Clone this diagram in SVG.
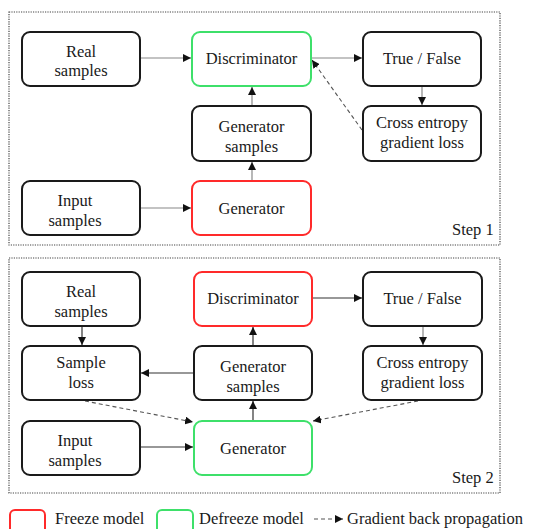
<svg xmlns="http://www.w3.org/2000/svg" width="541" height="529" viewBox="0 0 541 529">
<defs>
<marker id="ah" viewBox="0 0 10 10" refX="10" refY="5" markerWidth="8" markerHeight="8" markerUnits="userSpaceOnUse" orient="auto"><path d="M0,0 L10,5 L0,10 z" fill="#111"/></marker>
<style>
.frame{fill:none;stroke:#444;stroke-width:1.2;stroke-dasharray:1.2 1.2}
.box{fill:#fff;stroke:#1a1a1a;stroke-width:2}
.red{fill:#fff;stroke:#ff2a2a;stroke-width:2}
.grn{fill:#fff;stroke:#3ee06a;stroke-width:2}
.t,.lt{font-family:"Liberation Serif",serif;font-size:16.5px;fill:#1a1a1a}
.t{text-anchor:middle}
.ln{stroke:#888;stroke-width:1.2;fill:none;marker-end:url(#ah)}
.ln2{stroke:#333;stroke-width:1.2;fill:none;marker-end:url(#ah)}
.dl{stroke:#555;stroke-width:1.1;fill:none;stroke-dasharray:4 3;marker-end:url(#ah)}
</style>
</defs>
<rect width="541" height="529" fill="#fff"/>
<rect class="frame" x="9" y="12" width="491" height="233"/>
<rect class="frame" x="9" y="258" width="491" height="235"/>
<text class="lt" x="452" y="235">Step 1</text>
<text class="lt" x="452" y="483">Step 2</text>

<g id="connectors">
<line class="ln" x1="141" y1="58" x2="191" y2="58"/>
<line class="ln" x1="312" y1="58" x2="362" y2="58"/>
<line class="ln" x1="422" y1="87" x2="422" y2="105"/>
<line class="ln" x1="252" y1="106" x2="252" y2="87"/>
<line class="ln" x1="252" y1="181" x2="252" y2="162"/>
<line class="ln" x1="141" y1="208" x2="191" y2="208"/>
<line class="dl" x1="362" y1="130" x2="312" y2="60"/>
<line class="ln2" x1="313" y1="298" x2="362" y2="298"/>
<line class="ln2" x1="82" y1="327" x2="82" y2="345"/>
<line class="ln2" x1="193" y1="373" x2="141" y2="373"/>
<line class="ln2" x1="253" y1="346" x2="253" y2="327"/>
<line class="ln2" x1="253" y1="421" x2="253" y2="401"/>
<line class="ln2" x1="141" y1="447" x2="193" y2="447"/>
<line class="ln" x1="423" y1="327" x2="423" y2="345"/>
<line class="dl" x1="85" y1="401" x2="193" y2="422"/>
<line class="dl" x1="418" y1="401" x2="313" y2="421"/>
</g>

<g id="s1-real"><rect class="box" x="22" y="32" width="118" height="54" rx="8"/><text class="t" x="81" y="57">Real</text><text class="t" x="81" y="76">samples</text></g>
<g id="s1-disc"><rect class="grn" x="192" y="32" width="119" height="54" rx="8"/><text class="t" x="251.5" y="64">Discriminator</text></g>
<g id="s1-tf"><rect class="box" x="363" y="32" width="118" height="54" rx="8"/><text class="t" x="422" y="64">True / False</text></g>
<g id="s1-gs"><rect class="box" x="192" y="106" width="119" height="55" rx="8"/><text class="t" x="251.5" y="132">Generator</text><text class="t" x="251.5" y="152">samples</text></g>
<g id="s1-ce"><rect class="box" x="363" y="106" width="118" height="55" rx="8"/><text class="t" x="422" y="128">Cross entropy</text><text class="t" x="422" y="148">gradient loss</text></g>
<g id="s1-input"><rect class="box" x="22" y="181" width="118" height="54" rx="8"/><text class="t" x="75" y="206">Input</text><text class="t" x="75" y="226">samples</text></g>
<g id="s1-gen"><rect class="red" x="192" y="181" width="119" height="54" rx="8"/><text class="t" x="251.5" y="214">Generator</text></g>

<g id="s2-real"><rect class="box" x="22" y="272" width="118" height="54" rx="8"/><text class="t" x="81" y="297">Real</text><text class="t" x="81" y="317">samples</text></g>
<g id="s2-disc"><rect class="red" x="194" y="272" width="118" height="54" rx="8"/><text class="t" x="253" y="304">Discriminator</text></g>
<g id="s2-tf"><rect class="box" x="363" y="272" width="119" height="54" rx="8"/><text class="t" x="422.5" y="304">True / False</text></g>
<g id="s2-sl"><rect class="box" x="22" y="346" width="118" height="54" rx="8"/><text class="t" x="81" y="368">Sample</text><text class="t" x="81" y="388">loss</text></g>
<g id="s2-gs"><rect class="box" x="194" y="346" width="118" height="54" rx="8"/><text class="t" x="253" y="372">Generator</text><text class="t" x="253" y="392">samples</text></g>
<g id="s2-ce"><rect class="box" x="363" y="346" width="119" height="54" rx="8"/><text class="t" x="422.5" y="368">Cross entropy</text><text class="t" x="422.5" y="388">gradient loss</text></g>
<g id="s2-input"><rect class="box" x="22" y="421" width="118" height="54" rx="8"/><text class="t" x="75" y="446">Input</text><text class="t" x="75" y="466">samples</text></g>
<g id="s2-gen"><rect class="grn" x="194" y="421" width="118" height="54" rx="8"/><text class="t" x="253" y="454">Generator</text></g>

<g id="legend">
<rect class="red" x="10" y="510" width="35" height="30" rx="5"/>
<text class="lt" x="55" y="524">Freeze model</text>
<rect class="grn" x="157" y="510" width="36" height="30" rx="5"/>
<text class="lt" x="199" y="524">Defreeze model</text>
<line class="dl" x1="314" y1="519" x2="343" y2="519"/>
<text class="lt" x="347" y="524">Gradient back propagation</text>
</g>
</svg>
